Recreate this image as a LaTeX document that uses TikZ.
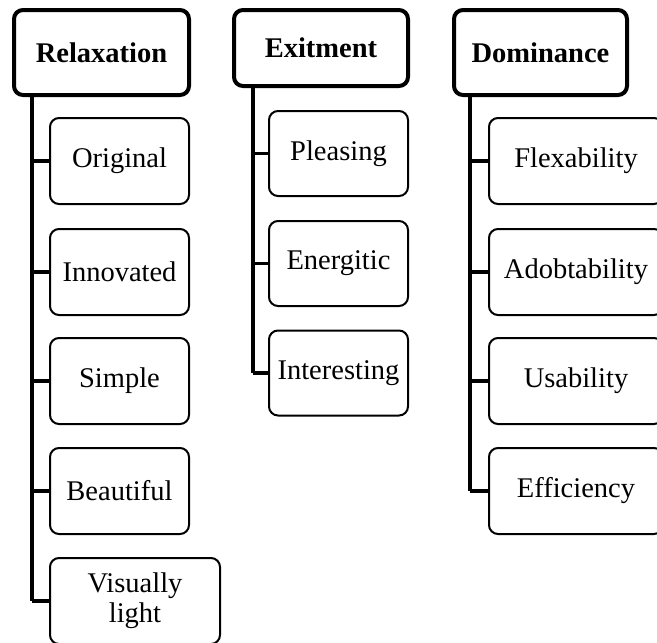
\documentclass[tikz,border=0pt]{standalone}
\usepackage{fontspec}
\setmainfont{Liberation Serif}
\tikzset{
  headbox/.style={draw, line width=4pt, rounded corners=9pt, inner sep=0pt, align=center,
    font=\fontsize{28.5}{31}\selectfont\bfseries},
  itembox/.style={draw, line width=2pt, rounded corners=9pt, inner sep=0pt, align=center,
    minimum width=139pt, minimum height=86pt, font=\fontsize{28.5}{30}\selectfont},
  trunk/.style={line width=4.5pt},
  branch/.style={line width=3.5pt}
}
\begin{document}
\begin{tikzpicture}[x=1pt,y=-1pt]
\useasboundingbox (0,0) rectangle (657,643);
\clip (0,0) rectangle (657,643);
% headers
\node[headbox, minimum width=175pt, minimum height=85pt] (R) at (101.5,52.5) {Relaxation};
\node[headbox, minimum width=174pt, minimum height=76pt] (E) at (321,48) {Exitment};
\node[headbox, minimum width=173pt, minimum height=85pt] (D) at (540.5,52.5) {Dominance};
% Relaxation items
\node[itembox] (r1) at (119.5,161) {Original};
\node[itembox] (r2) at (119.5,272) {Innovated};
\node[itembox] (r3) at (119.5,381) {Simple};
\node[itembox] (r4) at (119.5,491) {Beautiful};
\node[itembox, minimum width=170pt] (r5) at (135,601) {Visually\\light};
% Exitment items
\node[itembox, minimum height=85pt] (e1) at (338.5,153.5) {Pleasing};
\node[itembox, minimum height=85pt] (e2) at (338.5,263.5) {Energitic};
\node[itembox, minimum height=85pt] (e3) at (338.5,373) {Interesting};
% Dominance items
\node[itembox, minimum width=174pt] (d1) at (576,161) {Flexability};
\node[itembox, minimum width=174pt] (d2) at (576,272) {Adobtability};
\node[itembox, minimum width=174pt] (d3) at (576,381) {Usability};
\node[itembox, minimum width=174pt] (d4) at (576,491) {Efficiency};
% trunk coordinates
\coordinate (Rt) at (32,97);
\coordinate (Et) at (253,88);
\coordinate (Dt) at (470,97);
% Relaxation connectors
\draw[trunk] (Rt |- R.south) -- (Rt |- r5.west);
\draw[branch] (Rt |- r5.west) -- (r5.west);
\foreach \c in {r1,r2,r3,r4} \draw[branch] (Rt |- \c.west) -- (\c.west);
% Exitment connectors
\draw[trunk] (Et |- E.south) -- (Et |- e3.west);
\draw[branch] (Et |- e3.west) -- (e3.west);
\foreach \c in {e1,e2} \draw[branch] (Et |- \c.west) -- (\c.west);
% Dominance connectors
\draw[trunk] (Dt |- D.south) -- (Dt |- d4.west);
\draw[branch] (Dt |- d4.west) -- (d4.west);
\foreach \c in {d1,d2,d3} \draw[branch] (Dt |- \c.west) -- (\c.west);
\end{tikzpicture}
\end{document}
